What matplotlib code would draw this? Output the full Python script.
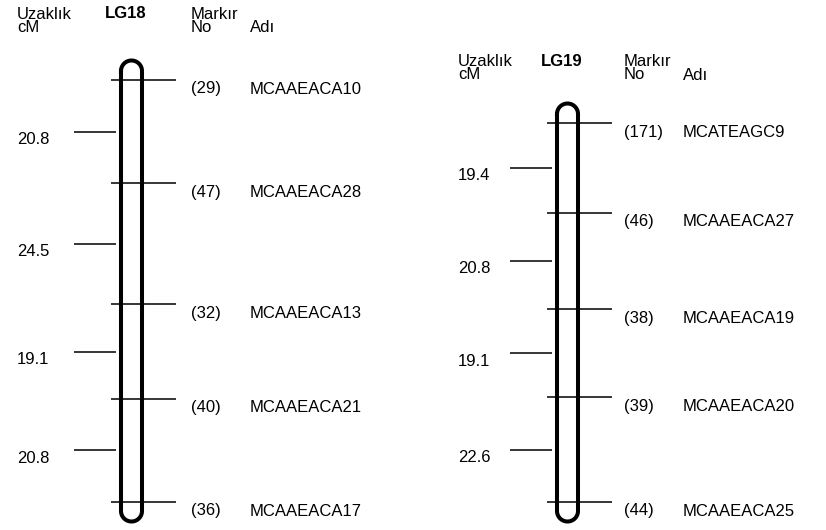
import numpy as np
import matplotlib
matplotlib.use("Agg")
import matplotlib.pyplot as plt

plt.rcParams['font.family'] = ['Liberation Sans', 'DejaVu Sans']

# Linkage group LG18
lg18_marker_no = ["29", "47", "32", "40", "36"]
lg18_marker_name = ["MCAAEACA10", "MCAAEACA28", "MCAAEACA13", "MCAAEACA21", "MCAAEACA17"]
lg18_dist_cM = [20.8, 24.5, 19.1, 20.8]

# Linkage group LG19
lg19_marker_no = ["171", "46", "38", "39", "44"]
lg19_marker_name = ["MCATEAGC9", "MCAAEACA27", "MCAAEACA19", "MCAAEACA20", "MCAAEACA25"]
lg19_dist_cM = [19.4, 20.8, 19.1, 22.6]

W, H = 826, 530
FS = 12
fig = plt.figure(figsize=(W / 100, H / 100), dpi=100)
fig.patch.set_facecolor("white")


def draw_group(name, nos, names, dists, cx, top_px, bottom_px, header_px,
               x_dist, x_no, x_name):
    total = float(np.sum(dists))
    scale = (bottom_px - top_px) / total          # pixels per cM
    ax = fig.add_axes([0, 0, 1, 1])
    ax.set_xlim(0, W)
    ax.set_ylim((H - top_px) / scale, (0 - top_px) / scale)
    ax.axis("off")
    ax.patch.set_alpha(0)

    def cm(px):
        return (px - top_px) / scale

    pos = np.concatenate([[0.0], np.cumsum(dists)])
    mids = (pos[:-1] + pos[1:]) / 2

    # marker lines across the chromosome
    for p in pos:
        ax.plot([cx - 21, cx + 44], [p, p], color="black", lw=1.1,
                solid_capstyle="butt", zorder=2)
    # distance ticks between markers
    for m, d in zip(mids, dists):
        ax.plot([cx - 58, cx - 16], [m, m], color="black", lw=1.1,
                solid_capstyle="butt", zorder=2)
        ax.text(x_dist, m + 8 / scale, f"{d:.1f}", fontsize=FS,
                ha="left", va="center")

    # chromosome outline (rod with rounded ends)
    r = 10.5
    ry = r / scale
    pad = 9 / scale
    t = np.linspace(0, np.pi, 40)
    xs = np.concatenate([
        [cx - r, cx - r],
        cx - r * np.cos(t),
        [cx + r, cx + r],
        cx + r * np.cos(t),
    ])
    ys = np.concatenate([
        [-pad, total + pad],
        total + pad + ry * np.sin(t),
        [total + pad, -pad],
        -pad - ry * np.sin(t),
    ])
    ax.plot(xs, ys, color="black", lw=2.9, zorder=3)

    for p, no, nm in zip(pos, nos, names):
        ax.text(x_no, p + 9 / scale, f"({no})", fontsize=FS, ha="left", va="center")
        ax.text(x_name, p + 9 / scale, nm, fontsize=FS, ha="left", va="center")

    # column headers
    y1, y2 = cm(header_px), cm(header_px + 14)
    ymid = cm(header_px + 7)
    ax.text(x_dist, ymid, "Uzaklık\ncM", fontsize=FS, ha="left", va="center",
            linespacing=0.86)
    ax.text(cx - 27, y1, name, fontsize=FS, fontweight="bold", ha="left", va="center")
    ax.text(x_no, ymid, "Markır\nNo", fontsize=FS, ha="left", va="center",
            linespacing=0.86)
    ax.text(x_name, y2, "Adı", fontsize=FS, ha="left", va="center")


draw_group("LG18", lg18_marker_no, lg18_marker_name, lg18_dist_cM,
           cx=131.5, top_px=80, bottom_px=502, header_px=14,
           x_dist=17, x_no=191, x_name=250)
draw_group("LG19", lg19_marker_no, lg19_marker_name, lg19_dist_cM,
           cx=567.5, top_px=123, bottom_px=502, header_px=61,
           x_dist=458, x_no=624, x_name=683)

fig.savefig("out.png", dpi=100)
